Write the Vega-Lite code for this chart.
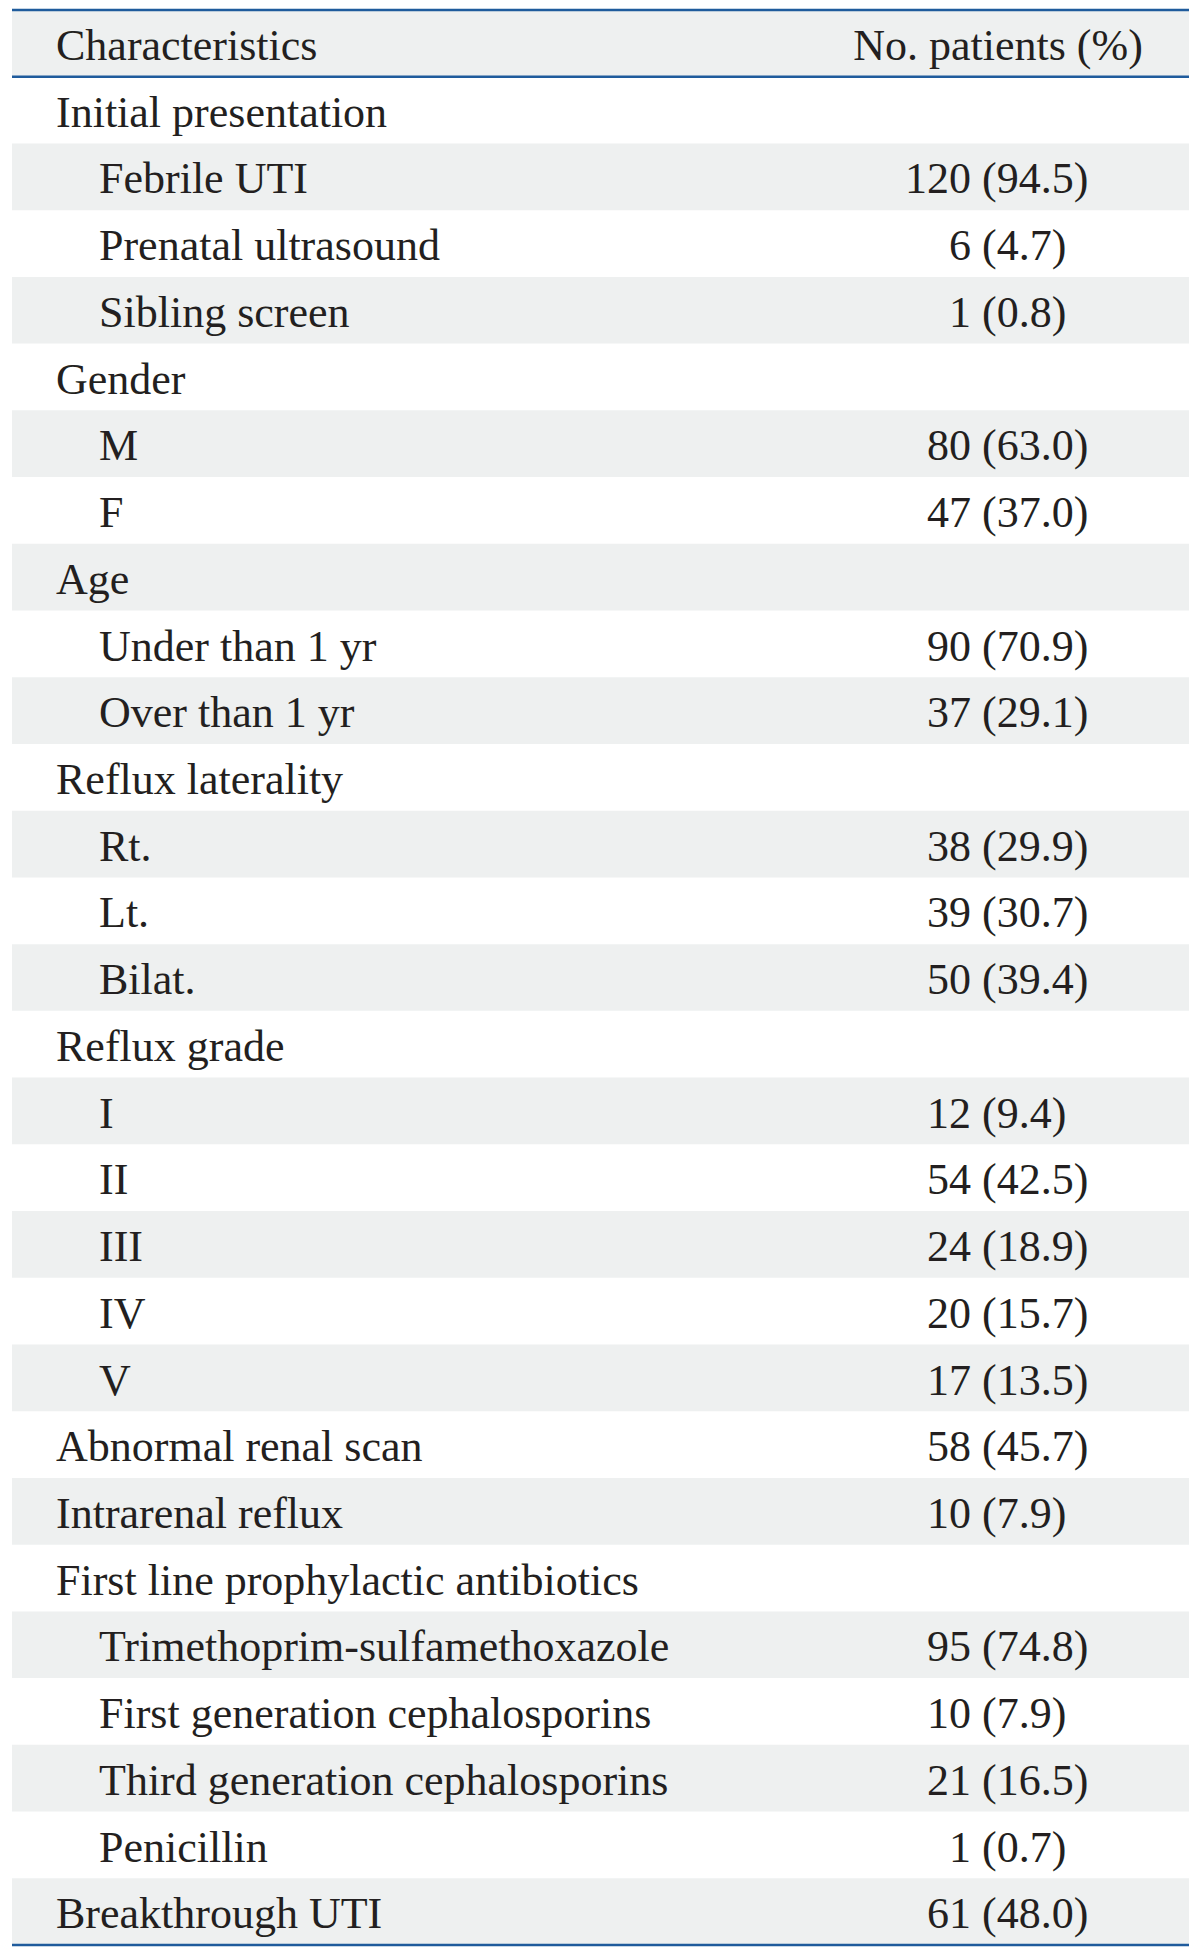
{
  "$schema": "https://vega.github.io/schema/vega-lite/v6.json",
  "width": 1200,
  "height": 1956,
  "padding": 0,
  "autosize": "none",
  "background": "white",
  "config": {"view": {"stroke": null}, "text": {"font": "Liberation Serif", "fontSize": 44, "color": "#231f20"}},
  "datasets": {
    "rows": [
      {"row": 0, "label": "Characteristics", "level": 0, "n": null, "pct": null},
      {"row": 1, "label": "Initial presentation", "level": 0, "n": null, "pct": null},
      {"row": 2, "label": "Febrile UTI", "level": 1, "n": "120", "pct": "(94.5)"},
      {"row": 3, "label": "Prenatal ultrasound", "level": 1, "n": "6\u00a0", "pct": "(4.7)"},
      {"row": 4, "label": "Sibling screen", "level": 1, "n": "1\u00a0", "pct": "(0.8)"},
      {"row": 5, "label": "Gender", "level": 0, "n": null, "pct": null},
      {"row": 6, "label": "M", "level": 1, "n": "80", "pct": "(63.0)"},
      {"row": 7, "label": "F", "level": 1, "n": "47", "pct": "(37.0)"},
      {"row": 8, "label": "Age", "level": 0, "n": null, "pct": null},
      {"row": 9, "label": "Under than 1 yr", "level": 1, "n": "90", "pct": "(70.9)"},
      {"row": 10, "label": "Over than 1 yr", "level": 1, "n": "37", "pct": "(29.1)"},
      {"row": 11, "label": "Reflux laterality", "level": 0, "n": null, "pct": null},
      {"row": 12, "label": "Rt.", "level": 1, "n": "38", "pct": "(29.9)"},
      {"row": 13, "label": "Lt.", "level": 1, "n": "39", "pct": "(30.7)"},
      {"row": 14, "label": "Bilat.", "level": 1, "n": "50", "pct": "(39.4)"},
      {"row": 15, "label": "Reflux grade", "level": 0, "n": null, "pct": null},
      {"row": 16, "label": "I", "level": 1, "n": "12", "pct": "(9.4)"},
      {"row": 17, "label": "II", "level": 1, "n": "54", "pct": "(42.5)"},
      {"row": 18, "label": "III", "level": 1, "n": "24", "pct": "(18.9)"},
      {"row": 19, "label": "IV", "level": 1, "n": "20", "pct": "(15.7)"},
      {"row": 20, "label": "V", "level": 1, "n": "17", "pct": "(13.5)"},
      {"row": 21, "label": "Abnormal renal scan", "level": 0, "n": "58", "pct": "(45.7)"},
      {"row": 22, "label": "Intrarenal reflux", "level": 0, "n": "10", "pct": "(7.9)"},
      {"row": 23, "label": "First line prophylactic antibiotics", "level": 0, "n": null, "pct": null},
      {"row": 24, "label": "Trimethoprim-sulfamethoxazole", "level": 1, "n": "95", "pct": "(74.8)"},
      {"row": 25, "label": "First generation cephalosporins", "level": 1, "n": "10", "pct": "(7.9)"},
      {"row": 26, "label": "Third generation cephalosporins", "level": 1, "n": "21", "pct": "(16.5)"},
      {"row": 27, "label": "Penicillin", "level": 1, "n": "1", "pct": "(0.7)"},
      {"row": 28, "label": "Breakthrough UTI", "level": 0, "n": "61", "pct": "(48.0)"}
    ]
  },
  "data": {"name": "rows"},
  "encoding": {
    "y": {"field": "row", "type": "ordinal", "axis": null,
          "scale": {"type": "band", "range": [10, 1945], "paddingInner": 0, "paddingOuter": 0}}
  },
  "layer": [
    {
      "transform": [{"filter": "datum.row % 2 == 0"}],
      "mark": {"type": "rect", "color": "#eef0f0"},
      "encoding": {
        "x": {"datum": 0, "type": "quantitative", "axis": null, "scale": {"domain": [0, 1], "range": [12, 1189]}},
        "x2": {"datum": 1}
      }
    },
    {
      "transform": [{"filter": "datum.row <= 1"}],
      "mark": {"type": "rule", "color": "#1f5b9c", "strokeWidth": 2.5},
      "encoding": {
        "x": {"datum": 0, "type": "quantitative", "axis": null, "scale": {"domain": [0, 1], "range": [12, 1189]}},
        "x2": {"datum": 1},
        "y": {"field": "row", "type": "ordinal", "bandPosition": 0}
      }
    },
    {
      "transform": [{"filter": "datum.row == 28"}],
      "mark": {"type": "rule", "color": "#1f5b9c", "strokeWidth": 2.5},
      "encoding": {
        "x": {"datum": 0, "type": "quantitative", "axis": null, "scale": {"domain": [0, 1], "range": [12, 1189]}},
        "x2": {"datum": 1},
        "y": {"field": "row", "type": "ordinal", "bandPosition": 1}
      }
    },
    {
      "mark": {"type": "text", "align": "left", "baseline": "alphabetic"},
      "encoding": {
        "x": {"field": "level", "type": "ordinal", "axis": null, "scale": {"type": "point", "padding": 0, "domain": [0, 1], "range": [56, 99]}},
        "y": {"field": "row", "type": "ordinal", "bandPosition": 0.75},
        "text": {"field": "label"}
      }
    },
    {
      "transform": [{"filter": "datum.n != null"}],
      "mark": {"type": "text", "align": "right", "baseline": "alphabetic"},
      "encoding": {
        "x": {"datum": "count", "type": "nominal", "axis": null, "scale": {"type": "point", "padding": 0, "domain": ["count", "percent"], "range": [971, 982]}},
        "y": {"field": "row", "type": "ordinal", "bandPosition": 0.75},
        "text": {"field": "n"}
      }
    },
    {
      "transform": [{"filter": "datum.pct != null"}],
      "mark": {"type": "text", "align": "left", "baseline": "alphabetic"},
      "encoding": {
        "x": {"datum": "percent", "type": "nominal", "axis": null, "scale": {"type": "point", "padding": 0, "domain": ["count", "percent"], "range": [971, 982]}},
        "y": {"field": "row", "type": "ordinal", "bandPosition": 0.75},
        "text": {"field": "pct"}
      }
    },
    {
      "data": {"values": [{"row": 0, "title": "No. patients (%)"}]},
      "mark": {"type": "text", "align": "center", "baseline": "alphabetic"},
      "encoding": {
        "x": {"datum": "header", "type": "nominal", "axis": null, "scale": {"type": "point", "padding": 0, "domain": ["header"], "range": [998, 998]}},
        "y": {"field": "row", "type": "ordinal", "bandPosition": 0.75},
        "text": {"field": "title"}
      }
    }
  ],
  "resolve": {"scale": {"x": "independent"}}
}
